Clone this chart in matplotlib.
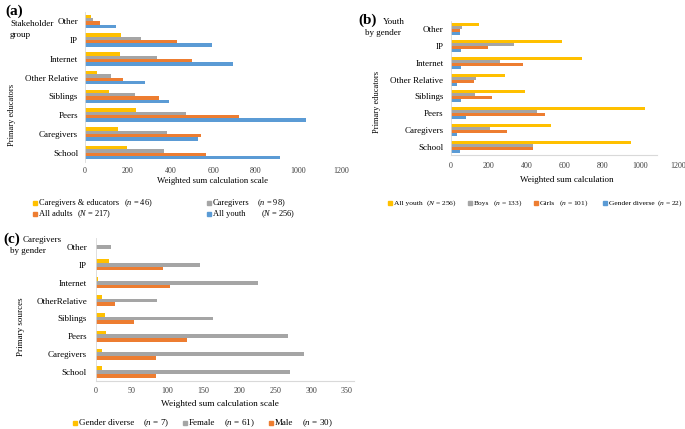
import numpy as np
import matplotlib
matplotlib.use('Agg')
import matplotlib.pyplot as plt
from matplotlib.patches import Rectangle

plt.rcParams['font.family'] = 'Liberation Serif'
plt.rcParams['mathtext.fontset'] = 'custom'
plt.rcParams['mathtext.rm'] = 'Liberation Serif'
plt.rcParams['mathtext.it'] = 'Liberation Serif:italic'

# categories, listed top to bottom
sources = ['Other', 'IP', 'Internet', 'Other Relative', 'Siblings', 'Peers', 'Caregivers', 'School']
sources_c = ['Other', 'IP', 'Internet', 'OtherRelative', 'Siblings', 'Peers', 'Caregivers', 'School']

# (a) stakeholder group
a_care_edu = [28, 167, 164, 55, 112, 239, 156, 197]
a_caregivers = [39, 261, 336, 123, 233, 473, 386, 369]
a_adults = [69, 430, 500, 178, 348, 723, 544, 566]
a_youth = [147, 594, 696, 283, 395, 1036, 531, 914]

# (b) youth by gender
b_youth = [146, 589, 691, 284, 391, 1024, 528, 954]
b_boys = [56, 331, 257, 132, 127, 454, 204, 436]
b_girls = [46, 194, 383, 120, 218, 496, 294, 431]
b_diverse = [48, 53, 53, 33, 51, 77, 30, 47]

# (c) caregivers by gender
c_diverse = [0, 18, 3, 9, 13, 13.5, 9, 9]
c_female = [21, 145, 226, 85, 163, 268, 290, 271]
c_male = [0, 94, 103, 26, 53, 127, 84, 84]

YELLOW = '#FFC000'
GRAY = '#A5A5A5'
ORANGE = '#ED7D31'
BLUE = '#5B9BD5'

W, H = 685, 429
fig = plt.figure(figsize=(W / 100, H / 100), dpi=100)


def px_axes(left, top, right, bottom):
    return fig.add_axes([left / W, 1 - bottom / H, (right - left) / W, (bottom - top) / H])


def ftext(x, y, s, **kw):
    kw.setdefault('va', 'center')
    kw.setdefault('fontsize', 6.3)
    fig.text(x / W, 1 - y / H, s, **kw)


def legend_item(x, y, color, name, xcount, count, size=6.3):
    fig.patches.append(Rectangle((x / W, 1 - (y + 2) / H), 4 / W, 4 / H,
                                 transform=fig.transFigure, color=color))
    ftext(x + 6, y, name, fontsize=size)
    ftext(xcount, y, count, fontsize=size)


def draw(ax, cats, series, colors, h, xmax, ticks, ypad, xpad):
    y = np.arange(len(cats))
    n = len(series)
    for k, (vals, c) in enumerate(zip(series, colors)):
        ax.barh(y + (k - (n - 1) / 2) * h, vals, height=h, color=c)
    ax.set_ylim(len(cats) - 0.5, -0.5)
    ax.set_yticks(y, cats)
    ax.set_xlim(0, xmax)
    ax.set_xticks(ticks)
    ax.tick_params(axis='y', length=0, labelsize=6.5, pad=ypad)
    ax.tick_params(axis='x', length=0, labelsize=5.8, pad=xpad, colors='#404040')
    for s in ['top', 'right', 'bottom']:
        ax.spines[s].set_visible(False)
    ax.spines['left'].set_color('#d9d9d9')
    ax.spines['left'].set_linewidth(0.6)


# (a)
ax_a = px_axes(85, 12, 341, 162)
draw(ax_a, sources, [a_care_edu, a_caregivers, a_adults, a_youth],
     [YELLOW, GRAY, ORANGE, BLUE], 0.178, 1200, range(0, 1201, 200), 5, 3.5)
ftext(5, 11, '(a)', fontsize=11, fontweight='bold')
ftext(10, 24, 'Stakeholder', fontsize=6.5)
ftext(10, 35, 'group', fontsize=6.5)
ftext(12, 115, 'Primary educators', rotation=90, ha='center', fontsize=6)
ftext(213, 181, 'Weighted sum calculation scale', ha='center')
legend_item(33, 203, YELLOW, 'Caregivers & educators', 124, r'($\mathit{n}$ = 46)', 6)
legend_item(207, 203, GRAY, 'Caregivers', 257, r'($\mathit{n}$ = 98)', 6)
legend_item(33, 214, ORANGE, 'All adults', 77, r'($\mathit{N}$ = 217)', 6)
legend_item(207, 214, BLUE, 'All youth', 261, r'($\mathit{N}$ = 256)', 6)

# (b)
ax_b = px_axes(451, 21, 678, 155)
draw(ax_b, sources, [b_youth, b_boys, b_girls, b_diverse],
     [YELLOW, GRAY, ORANGE, BLUE], 0.18, 1200, range(0, 1201, 200), 5.5, 5)
ax_b.spines['bottom'].set_visible(True)
ax_b.spines['bottom'].set_color('#d9d9d9')
ax_b.spines['bottom'].set_bounds(0, 1090)
ftext(358, 20, '(b)', fontsize=11, fontweight='bold')
ftext(383, 22, 'Youth', fontsize=6.5)
ftext(365, 33, 'by gender', fontsize=6.5)
ftext(377, 102, 'Primary educators', rotation=90, ha='center', fontsize=6)
ftext(567, 180, 'Weighted sum calculation', ha='center', fontsize=6.5)
legend_item(388, 203, YELLOW, 'All youth', 426, r'($\mathit{N}$ = 256)', 5.4)
legend_item(468, 203, GRAY, 'Boys', 493, r'($\mathit{n}$ = 133)', 5.4)
legend_item(534, 203, ORANGE, 'Girls', 559, r'($\mathit{n}$ = 101)', 5.4)
legend_item(603, 203, BLUE, 'Gender diverse', 657, r'($\mathit{n}$ = 22)', 5.4)

# (c)
ax_c = px_axes(96, 238, 354, 381)
draw(ax_c, sources_c, [c_diverse, c_female, c_male],
     [YELLOW, GRAY, ORANGE], 0.21, 360, range(0, 351, 50), 6.5, 4.5)
ax_c.spines['bottom'].set_visible(True)
ax_c.spines['bottom'].set_color('#d9d9d9')
ftext(3, 239, '(c)', fontsize=11, fontweight='bold')
ftext(23, 240, 'Caregivers', fontsize=6.5)
ftext(10, 251, 'by gender', fontsize=6.5)
ftext(21, 327, 'Primary sources', rotation=90, ha='center', fontsize=6.5)
ftext(220, 404, 'Weighted sum calculation scale', ha='center', fontsize=6.7)
legend_item(73, 423, YELLOW, 'Gender diverse', 143, r'($\mathit{n}$ = 7)', 6.5)
legend_item(183, 423, GRAY, 'Female', 224, r'($\mathit{n}$ = 61)', 6.5)
legend_item(269, 423, ORANGE, 'Male', 302, r'($\mathit{n}$ = 30)', 6.5)

fig.savefig('out.png', dpi=100)
